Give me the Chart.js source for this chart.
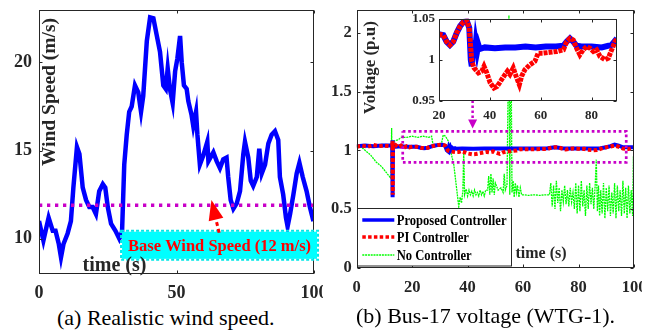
<!DOCTYPE html>
<html>
<head>
<meta charset="utf-8">
<title>Wind speed and Bus-17 voltage</title>
<script src="https://cdn.jsdelivr.net/npm/chart.js@4.4.1/dist/chart.umd.min.js"></script>
<style>
  body { margin: 0; background: #fff; }
  #page { position: relative; width: 658px; height: 333px; overflow: hidden; background: #fff; }
  canvas { position: absolute; }
  .cap { position: absolute; font: 22px "Liberation Serif", serif; line-height: 26px; color: #000; white-space: nowrap; }
</style>
</head>
<body>
<div id="page">
  <canvas id="windChart" width="323" height="305" style="left:0;top:0"></canvas>
  <canvas id="voltChart" width="317" height="305" style="left:325px;top:0"></canvas>
  <canvas id="zoomChart" width="215" height="122" style="left:405px;top:8px"></canvas>
  <div class="cap" style="left:57px;top:305px">(a) Realistic wind speed.</div>
  <div class="cap" style="left:356px;top:303px">(b) Bus-17 voltage (WTG-1).</div>
</div>
<script>
// (a) wind speed
const windTime = [0, 1.6, 3.5, 5, 6, 7.2, 8, 8.9, 10.4, 11.6, 12.5, 13.8, 14.7, 15.9, 17.1, 18.3, 19.5, 20.7, 21.9, 23.2,
    24.1, 25, 26.2, 27.8, 29.2, 30.2, 31, 31.9, 32.8, 33.7, 34.9, 36.1, 37.1, 37.9, 39.2, 40.4, 41.6, 42.8, 44, 45.2,
    46.1, 46.8, 47.6, 48.6, 49.5, 50.3, 51.3, 51.9, 52.7, 53.7, 54.3, 55.5, 56.1, 57.1, 57.6, 58.5, 59.7, 61.2, 61.6, 63.4,
    64.6, 65.8, 67, 68.2, 68.8, 69.7, 70.7, 71.9, 73.1, 74.3, 74.9, 76.1, 77, 77.9, 79.2, 80.1, 81, 82.2, 83.4, 84.6,
    85.8, 87, 87.6, 88.8, 89.8, 90.4, 91.3, 92.5, 93.7, 94.7, 95.9, 97.3, 98.5, 99.8];
const windSpeed = [11.0, 9.9, 11.2, 10.45, 10.45, 9.7, 8.95, 9.7, 10.3, 11.0, 12.9, 15.2, 14.8, 12.9, 12.2, 11.8, 11.8, 11.4, 12.7, 13.1,
    12.9, 11.8, 10.85, 10.45, 10.0, 10.4, 14.2, 15.9, 17.2, 17.5, 18.7, 18.3, 17.2, 18.1, 21.2, 22.55, 22.5, 21.55, 20.6, 18.7,
    18.5, 19.66, 18.5, 17.7, 19.5, 20.2, 21.5, 20.0, 18.7, 18.5, 17.8, 17.0, 16.4, 17.2, 15.9, 14.2, 14.7, 15.5, 14.4, 14.9,
    14.4, 14.0, 14.5, 14.6, 13.5, 12.2, 11.7, 12.0, 12.7, 14.8, 15.5, 14.6, 13.3, 13.0, 13.5, 15.1, 13.7, 14.2, 15.4, 15.9,
    16.1, 15.6, 13.5, 12.5, 11.2, 10.7, 11.4, 12.5, 13.7, 14.3, 13.5, 12.7, 11.8, 11.0];
const baseSpeed = 11.9;
const windXTicks = [0, 50, 100];
const windYTicks = [10, 15, 20];

// (b) Bus-17 voltage for the three controllers
const seriesNames = ['Proposed Controller', 'PI Controller', 'No Controller'];
const propTime = [0, 3, 6, 9, 12, 12.8, 12.9, 13.0, 13.1, 14, 16, 18, 20, 21.7, 23, 24.3, 25.6, 27, 28.3, 29.6,
    30.9, 31.9, 32.5, 32.9, 33.2, 33.5, 33.8, 34.1, 34.5, 35, 35.5, 36, 38, 42, 46, 50, 54, 58, 62, 66,
    68.9, 70.2, 71.5, 72.8, 74.1, 76, 80, 84, 87.9, 90, 91.5, 93, 94.5, 96, 100];
const propVolt = [1.035, 1.04, 1.035, 1.04, 1.04, 1.04, 1.085, 0.60, 1.03, 1.03, 1.035, 1.03, 1.031, 1.030, 1.022, 1.018, 1.022, 1.033, 1.041, 1.046,
    1.0476, 1.039, 1.0, 0.992, 1.022, 1.004, 1.024, 1.006, 1.02, 1.01, 1.018, 1.013, 1.015, 1.014, 1.015, 1.015, 1.016, 1.015, 1.016, 1.016,
    1.017, 1.022, 1.026, 1.022, 1.017, 1.016, 1.016, 1.015, 1.018, 1.026, 1.035, 1.048, 1.04, 1.025, 1.025];
const piTime = [0, 2, 4, 6, 8, 10, 12, 12.8, 12.9, 13.0, 13.1, 14, 15, 16, 17, 18, 19, 20.1, 21.7, 23,
    24.3, 25.6, 27, 28.3, 29.6, 30.9, 31.9, 32.5, 32.9, 33.8, 35.5, 36.8, 37.7, 38.8, 40.1, 41.6, 42.9, 44.6, 46, 46.9,
    47.9, 49.2, 50.3, 51.6, 52.5, 53.8, 55.8, 57.7, 59, 61, 63.6, 66.3, 68.9, 70.2, 71.5, 72.8, 74.1, 75.4, 76.7, 78.1,
    79.4, 80.7, 82, 83.3, 85.3, 86.6, 87.9, 89.2, 90, 91.5, 93, 94.5, 96, 98, 100];
const piVolt = [1.03, 1.04, 1.03, 1.045, 1.035, 1.04, 1.035, 1.04, 1.08, 0.62, 1.03, 1.045, 1.025, 1.04, 1.02, 1.035, 1.025, 1.031, 1.030, 1.022,
    1.018, 1.022, 1.033, 1.041, 1.046, 1.0476, 1.039, 1.014, 0.998, 0.990, 0.984, 0.986, 0.992, 0.984, 0.972, 0.9655, 0.9675, 0.9756, 0.982, 0.986,
    0.982, 0.990, 0.980, 0.9695, 0.980, 0.988, 0.994, 0.998, 1.008, 1.008, 1.009, 1.010, 1.012, 1.022, 1.026, 1.024, 1.014, 1.006, 1.012, 1.016,
    1.014, 1.010, 1.012, 1.004, 1.000, 1.002, 1.012, 1.022, 1.026, 1.032, 1.04, 1.03, 1.015, 1.012, 1.02];
const noTime = [0, 1, 2, 3, 5, 7, 9, 11, 12.4, 12.6, 12.8, 13.0, 13.5, 15, 16, 18, 20, 22, 24, 26,
    27, 27.5, 29, 30.5, 31.2, 32, 33, 34, 35, 36, 36.8, 37.3, 37.8, 38.3, 38.6, 38.9, 39.5, 40, 40.5, 41,
    41.5, 42, 42.5, 43, 43.5, 44, 44.5, 45, 45.5, 46, 46.5,
    47.2, 47.6, 48.0, 48.4, 48.8, 49.2, 49.6, 50, 51, 52, 52.8, 53.2, 53.6, 54.2, 54.9, 55.2, 55.6, 56.0, 56.4, 56.8,
    57.2, 57.6, 58, 58.5, 59, 59.5, 60.2, 62, 64, 66, 68, 69.5,
    70, 70.5, 71, 71.5, 72, 72.5, 73, 73.5, 74, 74.5, 75, 75.5, 76, 76.5, 77, 77.5, 78, 78.5, 79, 79.5,
    80, 80.5, 81, 81.5, 82, 82.5, 83, 83.5, 84, 84.5, 85, 85.5, 86, 86.4, 86.8, 87.2, 87.6, 88, 88.5, 89,
    89.5, 90, 90.5, 91, 91.5, 92, 92.5, 93, 93.5, 94, 94.5, 95, 95.5, 96, 96.5, 97, 97.5, 98, 98.5, 99,
    99.5, 99.8, 100];
const noVolt = [1.03, 1.03, 1.02, 1.0, 0.96, 0.90, 0.86, 0.80, 0.76, 1.19, 0.62, 1.0, 1.08, 1.09, 1.11, 1.11, 1.12, 1.11, 1.12, 1.11,
    1.12, 1.05, 1.04, 1.05, 1.13, 1.12, 1.08, 0.98, 0.88, 0.68, 0.52, 0.60, 0.55, 0.66, 1.0, 0.62, 0.67, 0.61, 0.66, 0.62,
    0.65, 0.61, 0.66, 0.62, 0.64, 0.61, 0.66, 0.62, 0.65, 0.61, 0.66,
    0.66, 0.78, 0.62, 0.80, 0.64, 0.76, 0.62, 0.72, 0.66, 0.68, 0.64, 0.80, 0.66, 0.70, 2.15, 0.62, 2.10, 0.64, 0.74, 0.60,
    0.72, 0.64, 0.70, 0.60, 0.68, 0.62, 0.62, 0.615, 0.62, 0.615, 0.62, 0.62,
    0.72, 0.52, 0.70, 0.50, 0.74, 0.55, 0.68, 0.48, 0.66, 0.56, 0.70, 0.54, 0.66, 0.52, 0.68, 0.56, 0.64, 0.50, 0.72, 0.46,
    0.70, 0.48, 0.74, 0.52, 0.66, 0.44, 0.70, 0.50, 0.72, 0.54, 0.68, 0.50, 0.70, 0.92, 0.48, 0.70, 0.44, 0.66, 0.46, 0.72,
    0.42, 0.68, 0.48, 0.70, 0.44, 0.64, 0.46, 0.72, 0.42, 0.70, 0.48, 0.66, 0.44, 0.74, 0.46, 0.68, 0.42, 0.70, 0.46, 0.66,
    0.44, 0.95, 0.60];
const voltXTicks = [0, 20, 40, 60, 80, 100];
const voltYTicks = [0, 0.5, 1, 1.5, 2];
const zoomXTicks = [20, 40, 60, 80];
const zoomYTicks = [0.95, 1, 1.05];
// dotted rectangle around the zoomed part: [t0, t1, v0, v1]
const zoomBox = [16.6, 97.2, 0.897, 1.162];

const serif = '"Liberation Serif", "Times New Roman", serif';
const ink = '#262626';
const magenta = '#c800c8';
const pts = (xs, ys) => xs.map((x, i) => ({ x: x, y: ys[i] }));

function drawText(ctx, s, x, y, font, color, rot) {
    ctx.save();
    ctx.translate(x, y);
    if (rot) ctx.rotate(rot);
    ctx.font = font;
    ctx.fillStyle = color;
    ctx.textAlign = 'center';
    ctx.textBaseline = 'middle';
    ctx.fillText(s, 0, 0);
    ctx.restore();
}

function drawArrow(ctx, x0, y0, x1, y1, color, width, dash, headLen, headW) {
    const ang = Math.atan2(y1 - y0, x1 - x0);
    const bx = x1 - headLen * Math.cos(ang), by = y1 - headLen * Math.sin(ang);
    const sx = headW / 2 * Math.sin(ang), sy = headW / 2 * Math.cos(ang);
    ctx.save();
    ctx.strokeStyle = color;
    ctx.fillStyle = color;
    ctx.lineWidth = width;
    ctx.setLineDash(dash);
    ctx.beginPath();
    ctx.moveTo(x0, y0);
    ctx.lineTo(bx, by);
    ctx.stroke();
    ctx.setLineDash([]);
    ctx.beginPath();
    ctx.moveTo(x1, y1);
    ctx.lineTo(bx + sx, by - sy);
    ctx.lineTo(bx - sx, by + sy);
    ctx.closePath();
    ctx.fill();
    ctx.restore();
}

// box around the plot with small inward ticks (MATLAB look)
const frameTicks = {
    id: 'frameTicks',
    afterDraw(chart) {
        const { ctx, chartArea: a, scales } = chart;
        const L = Math.round(a.left) + 0.5, R = Math.round(a.right) - 0.5;
        const T = Math.round(a.top) + 0.5, B = Math.round(a.bottom) - 0.5;
        ctx.save();
        ctx.strokeStyle = ink;
        ctx.lineWidth = 1;
        ctx.strokeRect(L, T, R - L, B - T);
        ctx.beginPath();
        scales.x.ticks.forEach(t => {
            const p = Math.round(scales.x.getPixelForValue(t.value)) + 0.5;
            ctx.moveTo(p, B); ctx.lineTo(p, B - 3);
            ctx.moveTo(p, T); ctx.lineTo(p, T + 3);
        });
        scales.y.ticks.forEach(t => {
            const p = Math.round(scales.y.getPixelForValue(t.value)) + 0.5;
            ctx.moveTo(L, p); ctx.lineTo(L + 3, p);
            ctx.moveTo(R, p); ctx.lineTo(R - 3, p);
        });
        ctx.stroke();
        ctx.restore();
    }
};

function axis(min, max, ticks, size, pad, fitSize, horizontal) {
    return {
        type: 'linear', min: min, max: max,
        afterBuildTicks: s => { s.ticks = ticks.map(v => ({ value: v })); },
        afterFit: s => {
            if (horizontal) s.height = fitSize; else s.width = fitSize;
            s.paddingLeft = 0; s.paddingRight = 0; s.paddingTop = 0; s.paddingBottom = 0;
        },
        grid: { display: false, drawTicks: false },
        border: { display: false },
        ticks: {
            font: { family: serif, weight: 'bold', size: size },
            color: ink, padding: pad, maxRotation: 0, autoSkip: false,
            callback: v => String(v)
        }
    };
}

const common = {
    responsive: false,
    animation: false,
    events: [],
    plugins: { legend: { display: false }, tooltip: { enabled: false } }
};

// ---- (a) wind speed
const windNotes = {
    id: 'windNotes',
    afterDraw(chart) {
        const { ctx, scales: { x, y } } = chart;
        // cyan label box
        const x0 = x.getPixelForValue(30.2), x1 = x.getPixelForValue(101.1);
        const y0 = y.getPixelForValue(10.4), y1 = y.getPixelForValue(8.86);
        ctx.save();
        ctx.fillStyle = '#00ffff';
        ctx.fillRect(x0, y0, x1 - x0, y1 - y0);
        ctx.strokeStyle = '#00e8e8';
        ctx.lineWidth = 2;
        ctx.setLineDash([3, 2]);
        ctx.strokeRect(x0 - 1, y0 - 1, x1 - x0 + 2, y1 - y0 + 2);
        ctx.restore();
        drawText(ctx, 'Base Wind Speed (12 m/s)', (x0 + x1) / 2, (y0 + y1) / 2 + 1,
            'bold 16.5px ' + serif, '#ff0000');
        drawArrow(ctx, x.getPixelForValue(65.5), y.getPixelForValue(10.34),
            x.getPixelForValue(62.7), y.getPixelForValue(12.19), '#ff0000', 3, [4, 3], 20, 15);
        drawText(ctx, 'Wind Speed (m/s)', 50, 92, 'bold 19.5px ' + serif, ink, -Math.PI / 2);
        drawText(ctx, 'time (s)', 114.5, 266, 'bold 20px ' + serif, ink);
    }
};

new Chart(document.getElementById('windChart'), {
    type: 'line',
    data: {
        datasets: [{
            data: pts(windTime, windSpeed),
            borderColor: '#0000ff', borderWidth: 4.5, pointRadius: 0, tension: 0, order: 2
        }, {
            data: [{ x: 0, y: baseSpeed }, { x: 100, y: baseSpeed }],
            borderColor: magenta, borderWidth: 3.3, borderDash: [3.3, 4.7], pointRadius: 0, order: 1
        }]
    },
    options: Object.assign({}, common, {
        layout: { padding: { top: 9.5, right: 9, left: 0, bottom: 0 } },
        scales: {
            x: axis(0, 100, windXTicks, 18, 9, 31, true),
            y: axis(8, 23, windYTicks, 18, 7, 39, false)
        }
    }),
    plugins: [frameTicks, windNotes]
});

// ---- (b) Bus-17 voltage
const voltNotes = {
    id: 'voltNotes',
    afterDraw(chart) {
        const { ctx, scales: { x, y } } = chart;
        drawArrow(ctx, x.getPixelForValue(41.8), y.getPixelForValue(1.425),
            x.getPixelForValue(41.8), y.getPixelForValue(1.185), magenta, 2.5, [2.5, 2.5], 9, 9);
        drawText(ctx, 'Voltage (p.u)', 46, 67.5, 'bold 17px ' + serif, ink, -Math.PI / 2);
        drawText(ctx, 'time (s)', 216, 254, 'bold 16px ' + serif, ink);

        // legend
        ctx.save();
        ctx.fillStyle = '#fff';
        ctx.fillRect(32.5, 208.5, 154, 57.5);
        ctx.strokeStyle = ink;
        ctx.lineWidth = 1;
        ctx.strokeRect(32.5, 208.5, 154, 57.5);
        const rows = [220, 237, 255];
        chart.data.datasets.slice(0, 3).forEach((ds, i) => {
            ctx.strokeStyle = ds.borderColor;
            ctx.lineWidth = Math.min(ds.borderWidth, 3.5);
            ctx.setLineDash(ds.borderDash || []);
            ctx.beginPath();
            ctx.moveTo(37.3, rows[i]);
            ctx.lineTo(69.3, rows[i]);
            ctx.stroke();
            ctx.setLineDash([]);
            ctx.save();
            ctx.translate(71.7, rows[i] + 1);
            ctx.scale(0.9, 1);
            ctx.font = 'bold 14px ' + serif;
            ctx.fillStyle = '#000';
            ctx.textAlign = 'left';
            ctx.textBaseline = 'middle';
            ctx.fillText(ds.label, 0, 0);
            ctx.restore();
        });
        ctx.restore();
    }
};

new Chart(document.getElementById('voltChart'), {
    type: 'line',
    data: {
        datasets: [{
            label: seriesNames[0], data: pts(propTime, propVolt),
            borderColor: '#0000ff', borderWidth: 4, pointRadius: 0, tension: 0, order: 2
        }, {
            label: seriesNames[1], data: pts(piTime, piVolt),
            borderColor: '#ff0000', borderWidth: 4, borderDash: [3.5, 2.3], pointRadius: 0, tension: 0, order: 1
        }, {
            label: seriesNames[2], data: pts(noTime, noVolt),
            borderColor: '#00ff00', borderWidth: 1.3, borderDash: [2, 0.8], pointRadius: 0, tension: 0, order: 3
        }, {
            data: [{ x: zoomBox[0], y: zoomBox[3] }, { x: zoomBox[1], y: zoomBox[3] }, { x: zoomBox[1], y: zoomBox[2] },
                { x: zoomBox[0], y: zoomBox[2] }, { x: zoomBox[0], y: zoomBox[3] }],
            borderColor: magenta, borderWidth: 2.7, borderDash: [2.7, 2.7], pointRadius: 0, tension: 0, order: 0
        }]
    },
    options: Object.assign({}, common, {
        layout: { padding: { top: 9.6, right: 8, left: 0, bottom: 0 } },
        scales: {
            x: axis(0, 100, voltXTicks, 16.5, 10, 37.5, true),
            y: axis(0, 2.2, voltYTicks, 16.5, 5, 31.7, false)
        }
    }),
    plugins: [frameTicks, voltNotes]
});

// ---- zoomed inset (opaque plot area)
const whiteArea = {
    id: 'whiteArea',
    beforeDraw(chart) {
        const a = chart.chartArea;
        chart.ctx.save();
        chart.ctx.fillStyle = '#fff';
        chart.ctx.fillRect(a.left, a.top, a.right - a.left, a.bottom - a.top);
        chart.ctx.restore();
    }
};

new Chart(document.getElementById('zoomChart'), {
    type: 'line',
    data: {
        datasets: [{
            data: pts(propTime, propVolt),
            borderColor: '#0000ff', borderWidth: 6, pointRadius: 0, tension: 0, order: 2
        }, {
            data: pts(piTime, piVolt),
            borderColor: '#ff0000', borderWidth: 5, borderDash: [4, 1], pointRadius: 0, tension: 0, order: 1
        }]
    },
    options: Object.assign({}, common, {
        layout: { padding: { top: 10.7, right: 3, left: 0, bottom: 0 } },
        scales: {
            x: axis(20, 90, zoomXTicks, 13, 7, 29.3, true),
            y: axis(0.95, 1.05, zoomYTicks, 13, 4, 34, false)
        }
    }),
    plugins: [whiteArea, frameTicks]
});
</script>
</body>
</html>
